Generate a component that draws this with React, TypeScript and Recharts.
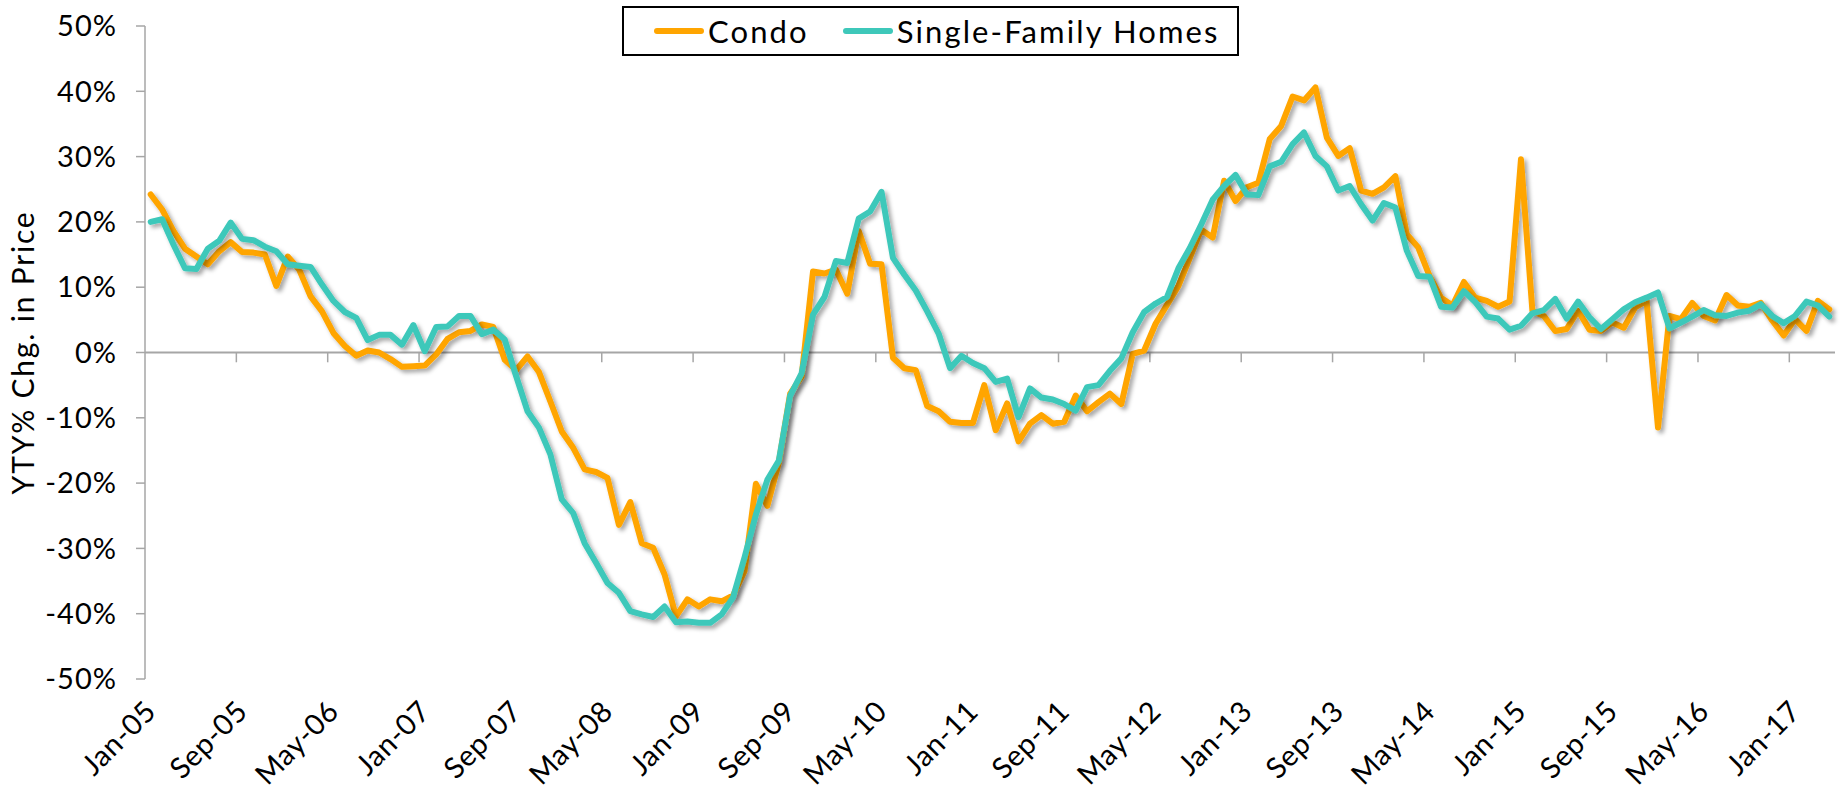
import React from 'react';
import { LineChart, Line, XAxis, YAxis, ReferenceLine } from 'recharts';

const MONTH_NAMES = ['Jan', 'Feb', 'Mar', 'Apr', 'May', 'Jun', 'Jul', 'Aug', 'Sep', 'Oct', 'Nov', 'Dec'];
const START_YEAR = 5; // 2005

const CONDO = [
  24.2, 21.9, 18.6, 15.9, 14.7, 13.5, 15.5, 16.9, 15.4, 15.3, 15.0, 10.2,
  14.7, 12.7, 8.6, 6.3, 3.0, 1.0, -0.5, 0.3, 0.0, -1.0, -2.2, -2.1,
  -2.0, -0.3, 2.1, 3.1, 3.3, 4.3, 3.9, -1.1, -2.7, -0.6, -3.0, -7.5,
  -12.1, -14.6, -17.9, -18.3, -19.2, -26.4, -22.9, -29.2, -29.9, -34.0, -40.4, -37.8,
  -38.9, -37.8, -38.1, -37.2, -33.5, -20.1, -23.5, -16.9, -6.3, -3.7, 12.4, 12.1,
  12.7, 9.0, 18.6, 13.6, 13.5, -0.8, -2.4, -2.7, -8.2, -9.0, -10.6, -10.8,
  -10.8, -5.0, -11.9, -7.8, -13.6, -10.9, -9.6, -10.9, -10.6, -6.6, -9.0, -7.6,
  -6.3, -7.9, -0.2, 0.3, 4.4, 7.3, 10.2, 14.5, 18.8, 17.6, 26.3, 23.2,
  25.3, 26.0, 32.7, 34.7, 39.2, 38.6, 40.6, 32.9, 30.1, 31.3, 24.8, 24.3,
  25.3, 27.0, 18.1, 16.1, 11.7, 8.4, 7.2, 10.8, 8.4, 7.9, 7.0, 7.8,
  29.6, 6.4, 5.6, 3.3, 3.6, 6.4, 3.5, 3.3, 4.6, 3.8, 6.9, 7.9,
  -11.5, 5.6, 5.1, 7.6, 5.6, 4.9, 8.8, 7.2, 7.0, 7.6, 4.9, 2.6,
  5.1, 3.3, 7.9, 6.6,
];

const SINGLE_FAMILY = [
  20.0, 20.4, 16.5, 12.9, 12.8, 15.9, 17.1, 19.9, 17.4, 17.2, 16.2, 15.5,
  13.5, 13.3, 13.1, 10.4, 7.9, 6.2, 5.3, 1.9, 2.7, 2.7, 1.2, 4.2,
  0.2, 3.9, 4.0, 5.6, 5.6, 2.8, 3.5, 2.0, -3.6, -9.0, -11.5, -15.6,
  -22.5, -24.6, -29.2, -32.2, -35.3, -36.8, -39.6, -40.1, -40.5, -38.9, -41.3, -41.2,
  -41.4, -41.4, -40.1, -37.5, -31.4, -24.8, -19.5, -16.6, -6.6, -3.2, 5.8, 8.5,
  14.0, 13.7, 20.5, 21.6, 24.6, 14.5, 11.9, 9.5, 6.3, 2.9, -2.4, -0.5,
  -1.6, -2.4, -4.5, -4.0, -9.9, -5.5, -6.9, -7.2, -7.9, -8.9, -5.3, -5.0,
  -2.8, -0.9, 3.1, 6.2, 7.5, 8.5, 12.9, 16.0, 19.6, 23.4, 25.5, 27.2,
  24.2, 24.1, 28.5, 29.2, 31.9, 33.7, 30.1, 28.5, 24.8, 25.5, 22.7, 20.2,
  22.9, 22.2, 15.6, 11.7, 11.6, 7.0, 6.9, 9.4, 7.7, 5.5, 5.2, 3.5,
  4.1, 6.0, 6.5, 8.2, 5.2, 7.8, 5.4, 3.6, 5.1, 6.6, 7.7, 8.4,
  9.2, 3.7, 4.6, 5.5, 6.5, 5.7, 5.6, 6.1, 6.4, 7.4, 5.6, 4.5,
  5.6, 7.8, 7.2, 5.5,
];

const X_TICK_LABELS = [
  'Jan-05', 'Sep-05', 'May-06', 'Jan-07', 'Sep-07', 'May-08', 'Jan-09', 'Sep-09', 'May-10', 'Jan-11',
  'Sep-11', 'May-12', 'Jan-13', 'Sep-13', 'May-14', 'Jan-15', 'Sep-15', 'May-16', 'Jan-17',
];
const Y_TICKS = [-50, -40, -30, -20, -10, 0, 10, 20, 30, 40, 50];

const SERIES = [
  { key: 'condo', name: 'Condo', color: '#FFA500' },
  { key: 'sfh', name: 'Single-Family Homes', color: '#3EC8BA' },
];

const FONT = 'Lato, "Open Sans", sans-serif';
const GRID = '#A6A6A6';

const categories = CONDO.map(
  (_, i) => `${MONTH_NAMES[i % 12]}-${String(START_YEAR + Math.floor(i / 12)).padStart(2, '0')}`
);
const data = categories.map((m, i) => ({ x: i + 0.5, month: m, condo: CONDO[i], sfh: SINGLE_FAMILY[i] }));
const labelTicks = X_TICK_LABELS.map((l) => categories.indexOf(l) + 0.5);
const boundaryTicks = X_TICK_LABELS.slice(1).map((l) => categories.indexOf(l));

const XTick = (props: any) => {
  const { x, y, payload } = props;
  const label = categories[Math.round(payload.value - 0.5)];
  return (
    <g transform={`translate(${x},${y})`}>
      <text
        transform="rotate(-45)"
        textAnchor="end"
        dy="0.35em"
        fontSize={29}
        fontFamily={FONT}
        letterSpacing={0.6}
        fill="#000"
      >
        {label}
      </text>
    </g>
  );
};

const YTitle = (props: any) => {
  const vb = props.viewBox || { x: 0, y: 26, width: 145, height: 653 };
  const cx = vb.x + 22;
  const cy = vb.y + vb.height / 2;
  return (
    <text
      x={cx}
      y={cy}
      transform={`rotate(-90, ${cx}, ${cy})`}
      textAnchor="middle"
      dominantBaseline="central"
      fontSize={30}
      letterSpacing={1.8}
      fontFamily={FONT}
      fill="#000"
    >
      YTY% Chg. in Price
    </text>
  );
};

const LegendBox = () => (
  <div
    style={{
      position: 'absolute',
      left: 622,
      top: 6,
      width: 617,
      height: 50,
      boxSizing: 'border-box',
      border: '2px solid #000',
      background: '#fff',
      display: 'flex',
      alignItems: 'center',
      paddingLeft: 30,
      fontFamily: FONT,
      fontSize: 31,
      letterSpacing: 2.1,
      color: '#000',
      whiteSpace: 'nowrap',
    }}
  >
    {SERIES.map((s, idx) => (
      <div key={s.key} style={{ display: 'flex', alignItems: 'center', marginRight: idx === 0 ? 34 : 0 }}>
        <div style={{ width: 50, height: 6, borderRadius: 3, background: s.color, marginRight: 4 }} />
        <span>{s.name}</span>
      </div>
    ))}
  </div>
);

export default function App() {
  return (
    <div style={{ position: 'absolute', left: 0, top: 0, width: 1841, height: 801, background: '#fff', fontFamily: FONT }}>
      <LineChart width={1841} height={801} data={data} margin={{ top: 26, right: 6, bottom: 0, left: 0 }}>
        <defs>
          <filter id="lineShadow" x="-5%" y="-5%" width="110%" height="110%">
            <feDropShadow dx="3" dy="3" stdDeviation="2.2" floodColor="#000" floodOpacity="0.35" />
          </filter>
        </defs>
        <XAxis
          type="number"
          dataKey="x"
          domain={[0, categories.length]}
          ticks={labelTicks}
          interval={0}
          axisLine={false}
          tickLine={false}
          tickSize={0}
          tickMargin={27}
          height={122}
          tick={<XTick />}
        />
        <YAxis
          type="number"
          domain={[-50, 50]}
          ticks={Y_TICKS}
          interval={0}
          width={145}
          tickFormatter={(v: number) => `${v}%`}
          axisLine={{ stroke: GRID, strokeWidth: 1.5 }}
          tickLine={{ stroke: GRID, strokeWidth: 1.5 }}
          tickSize={9}
          tickMargin={19}
          tick={{ fontSize: 29, fill: '#000', fontFamily: FONT, letterSpacing: 1 }}
          label={<YTitle />}
        />
        <ReferenceLine y={0} stroke={GRID} strokeWidth={2} />
        {boundaryTicks.map((b) => (
          <ReferenceLine
            key={`t${b}`}
            segment={[
              { x: b, y: 0 },
              { x: b, y: -1.5 },
            ]}
            stroke={GRID}
            strokeWidth={1.5}
          />
        ))}
        {SERIES.map((s) => (
          <Line
            key={s.key}
            type="linear"
            dataKey={s.key}
            name={s.name}
            stroke={s.color}
            strokeWidth={6}
            strokeLinejoin="round"
            strokeLinecap="round"
            dot={false}
            activeDot={false}
            filter="url(#lineShadow)"
            isAnimationActive={false}
          />
        ))}
      </LineChart>
      <LegendBox />
    </div>
  );
}
